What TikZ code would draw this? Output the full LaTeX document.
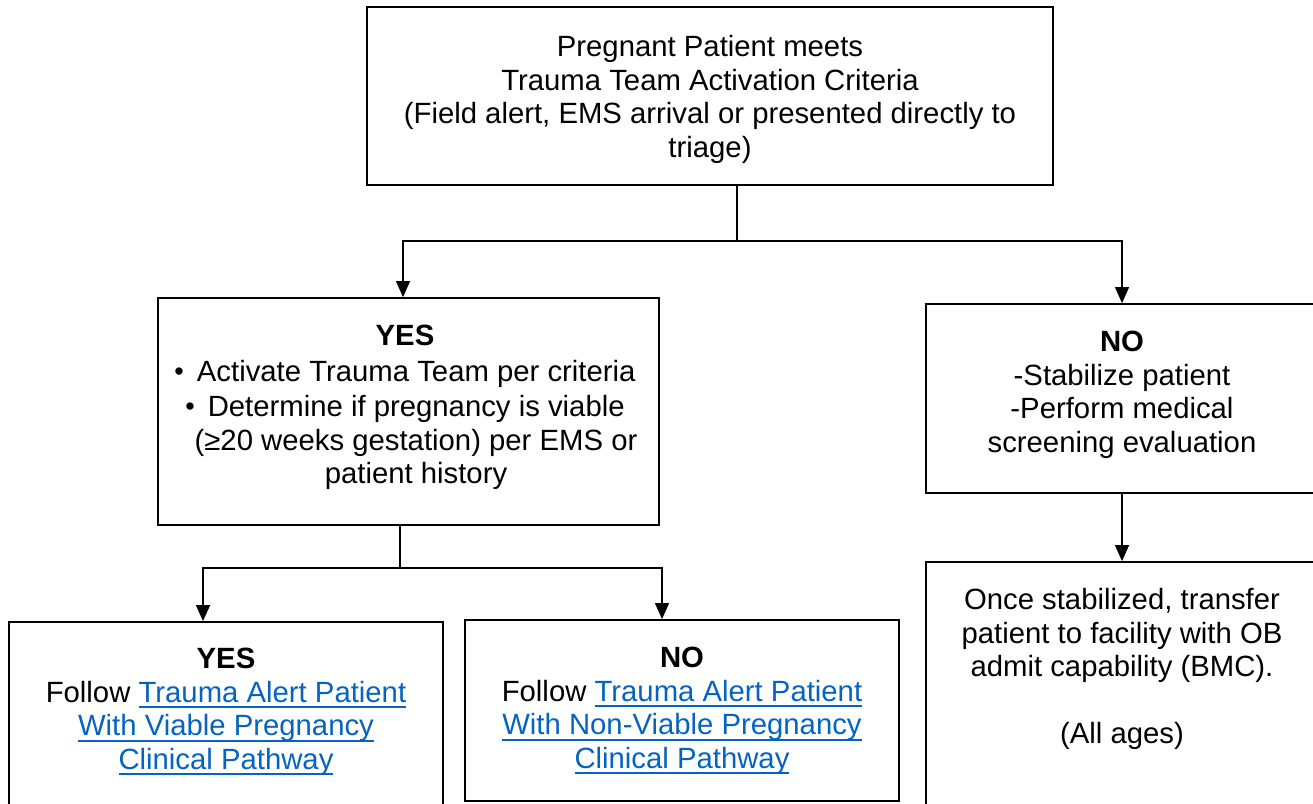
\documentclass[tikz,border=0pt]{standalone}
\usepackage{fontspec}
\setmainfont{Liberation Sans}
\usetikzlibrary{arrows.meta,calc}
\definecolor{linkblue}{HTML}{0563C1}
\newsavebox\lnkbox
\newcommand{\lnk}[1]{{\color{linkblue}\sbox\lnkbox{#1}\rlap{\rule[-6pt]{\wd\lnkbox}{2pt}}\usebox\lnkbox}}
\newcommand{\bul}{\raisebox{1pt}{\fontsize{27}{27}\selectfont\textbullet}\hspace{13pt}}
\begin{document}
\begin{tikzpicture}[x=1pt,y=-1pt,
 box/.style={draw, line width=1.8pt, inner sep=0pt},
 txt/.style={inner sep=0pt, align=center, font=\fontsize{29.3}{33.5}\selectfont},
 conn/.style={line width=1.2pt},
 arr/.style={conn, -{Triangle[width=14pt,length=16pt]}},
]
\useasboundingbox (0,0) rectangle (1313,803);
\clip (0,0) rectangle (1313,803);
% boxes
\node[box, minimum width=686pt, minimum height=178pt] (top) at (710,96) {};
\node[box, minimum width=501pt, minimum height=227pt] (yes) at (408.5,411.5) {};
\node[box, minimum width=392pt, minimum height=189pt] (no) at (1122,398.5) {};
\node[box, minimum width=392pt, minimum height=278pt] (stab) at (1122,701) {};
\node[box, minimum width=434pt, minimum height=183pt] (viable) at (226,713.5) {};
\node[box, minimum width=434pt, minimum height=181pt] (nonviable) at (682,710.5) {};
% texts
\node[txt] (topT) at (710,99.5) {Pregnant Patient meets\\Trauma Team Activation Criteria\\(Field alert, EMS arrival or presented directly to\\triage)};
\node[txt] (yesT) at (405,407.5) {\textbf{YES}\\[2pt]
\bul Activate Trauma Team per criteria\\[2pt]
\bul Determine if pregnancy is viable\\
\hspace{22pt}(≥20 weeks gestation) per EMS or\\
\hspace{22pt}patient history};
\node[txt] (noT) at (1122,395) {\textbf{NO}\\-Stabilize patient\\-Perform medical\\screening evaluation};
\node[txt, anchor=north] (stabT) at (1122,588.5) {Once stabilized, transfer\\patient to facility with OB\\admit capability (BMC).\\[33.5pt](All ages)};
\node[txt] (viableT) at (226,712) {\textbf{YES}\\Follow \lnk{Trauma Alert Patient}\\\lnk{With Viable Pregnancy}\\\lnk{Clinical Pathway}};
\node[txt] (nonviableT) at (682,711) {\textbf{NO}\\Follow \lnk{Trauma Alert Patient}\\\lnk{With Non-Viable Pregnancy}\\\lnk{Clinical Pathway}};
% connectors
\coordinate (j1) at (737,241);
\coordinate (j2) at (400,568);
\draw[conn] ([xshift=27pt]top.south) -- (j1);
\draw[arr] (j1) -| ([xshift=-5.5pt]yes.north);
\draw[arr] (j1) -| (no.north);
\draw[arr] (no.south) -- (stab.north);
\draw[conn] ([xshift=-8.5pt]yes.south) -- (j2);
\draw[arr] (j2) -| ([xshift=-23pt]viable.north);
\draw[arr] (j2) -| ([xshift=-20pt]nonviable.north);
\end{tikzpicture}
\end{document}
